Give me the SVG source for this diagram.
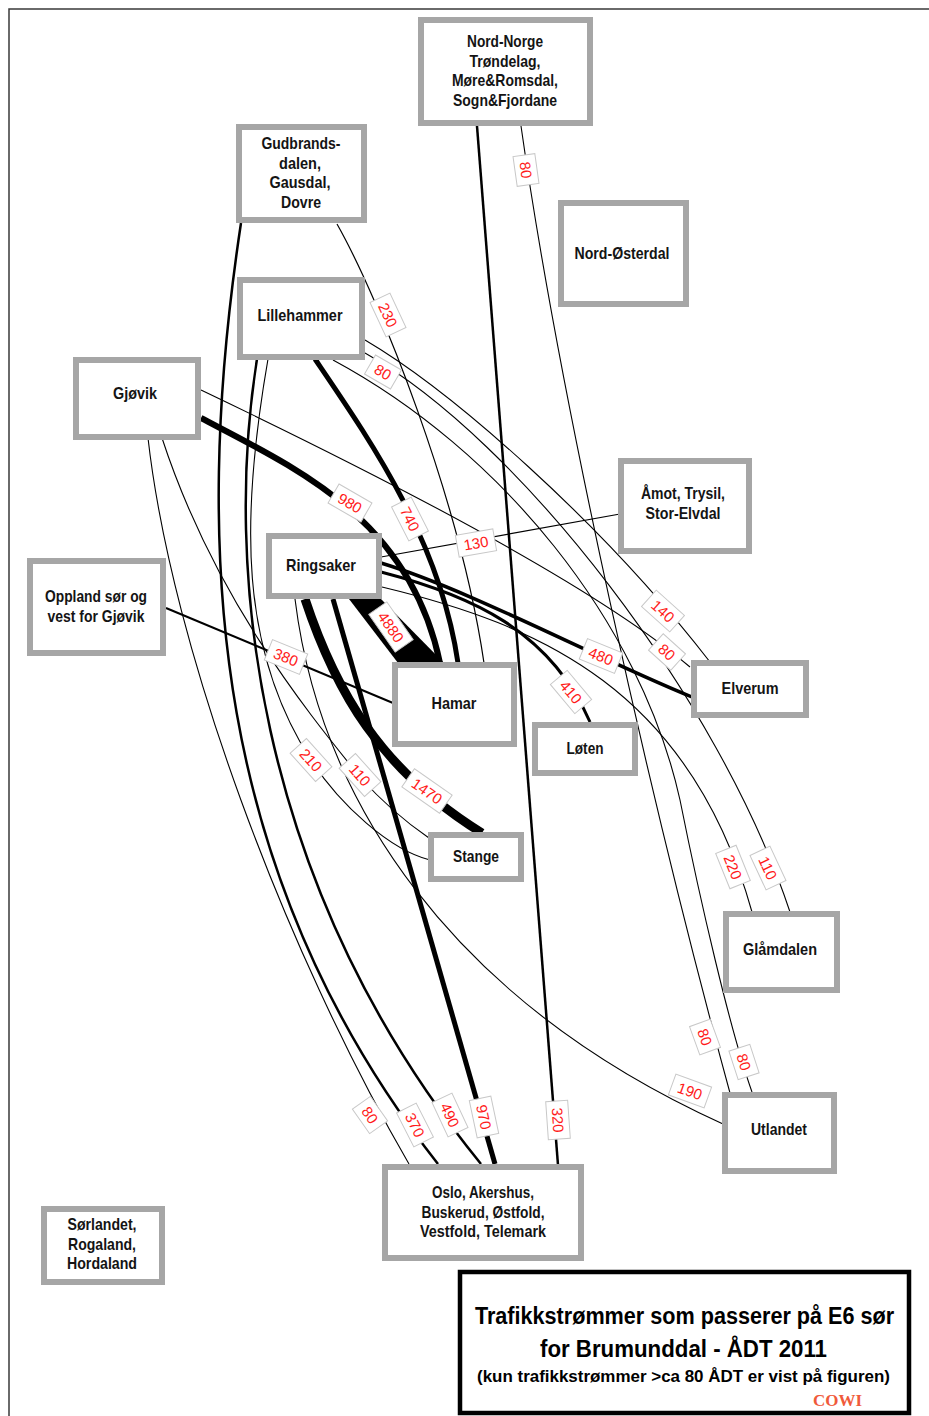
<svg xmlns="http://www.w3.org/2000/svg" width="929" height="1416" viewBox="0 0 929 1416">
<style>
.box{fill:#fff;stroke:#a6a6a6;stroke-width:6}
.nt{font-family:"Liberation Sans Narrow","Liberation Sans",Arial,sans-serif;font-weight:bold;font-size:17px;fill:#141414;text-anchor:middle}
.ln{fill:none;stroke:#000;stroke-linecap:butt}
.lb rect{fill:#fff;stroke:#c8c8c8;stroke-width:1}
.lb text{font-family:"Liberation Sans",Arial,sans-serif;font-size:15px;fill:#ff1a1a;text-anchor:middle}
.tt{font-family:"Liberation Sans Narrow","Liberation Sans",Arial,sans-serif;font-weight:bold;fill:#000;text-anchor:middle}
</style>
<rect width="929" height="1416" fill="#fff"/>
<path d="M9,1416 V9 H929" fill="none" stroke="#3a3a3a" stroke-width="1.5"/>

<g id="connectors">
<path class="ln" stroke-width="2.5" d="M477,126 L558,1165"/>
<path class="ln" stroke-width="1.1" d="M521,126 C560,400 650,800 730,1093"/>
<path class="ln" stroke-width="1.2" d="M337,224 C380,300 460,500 484,663"/>
<path class="ln" stroke-width="2.5" d="M241,223 C190,560 215,880 438,1164"/>
<path class="ln" stroke-width="2.5" d="M257,359 C225,560 250,880 481,1164"/>
<path class="ln" stroke-width="5" d="M315,359 C370,440 440,540 458,663"/>
<path class="ln" stroke-width="6" d="M201,418 C300,470 410,520 440,663"/>
<polygon points="349,599 381,599 444,663 398,663" fill="#000"/>
<path class="ln" stroke-width="9" d="M305,599 C335,690 380,770 482,833"/>
<path class="ln" stroke-width="5" d="M333,599 L495,1164"/>
<path class="ln" stroke-width="3" d="M381,572 C470,595 550,630 590,722"/>
<path class="ln" stroke-width="3.5" d="M381,563 C470,590 600,660 692,697"/>
<path class="ln" stroke-width="1.2" d="M381,557 L620,514"/>
<path class="ln" stroke-width="2" d="M166,608 L393,703"/>
<path class="ln" stroke-width="1.1" d="M295,599 C320,800 450,1000 723,1124"/>
<path class="ln" stroke-width="1.1" d="M148,438 C172,650 285,950 409,1164"/>
<path class="ln" stroke-width="1.1" d="M268,359 C240,520 240,650 311,760 C340,805 390,850 430,860"/>
<path class="ln" stroke-width="1.1" d="M162,438 C215,600 310,715 360,777 C385,805 410,825 429,838"/>
<path class="ln" stroke-width="1.1" d="M365,340 C450,390 600,520 710,662"/>
<path class="ln" stroke-width="1.1" d="M201,390 C400,485 600,590 690,667"/>
<path class="ln" stroke-width="1.1" d="M365,353 C520,440 720,700 790,912"/>
<path class="ln" stroke-width="1.1" d="M382,587 C540,625 690,690 752,912"/>
<path class="ln" stroke-width="1.1" d="M333,360 C500,450 640,620 680,800 C700,900 730,1030 752,1092"/>
</g>

<g id="labels" class="lb">
<g transform="translate(526,170) rotate(82)"><rect x="-15" y="-11" width="30" height="22"/><text y="5.5">80</text></g>
<g transform="translate(388,315) rotate(65)"><rect x="-19" y="-11" width="38" height="22"/><text y="5.5">230</text></g>
<g transform="translate(383,372) rotate(30)"><rect x="-15" y="-11" width="30" height="22"/><text y="5.5">80</text></g>
<g transform="translate(350,503) rotate(30)"><rect x="-19" y="-11" width="38" height="22"/><text y="5.5">980</text></g>
<g transform="translate(410,519) rotate(63)"><rect x="-19" y="-11" width="38" height="22"/><text y="5.5">740</text></g>
<g transform="translate(476,543) rotate(-10)"><rect x="-19" y="-11" width="38" height="22"/><text y="5.5">130</text></g>
<g transform="translate(391,627) rotate(55)"><rect x="-23" y="-11" width="46" height="22"/><text y="5.5">4880</text></g>
<g transform="translate(286,657) rotate(22)"><rect x="-19" y="-11" width="38" height="22"/><text y="5.5">380</text></g>
<g transform="translate(663,611) rotate(42)"><rect x="-19" y="-11" width="38" height="22"/><text y="5.5">140</text></g>
<g transform="translate(667,652) rotate(42)"><rect x="-15" y="-11" width="30" height="22"/><text y="5.5">80</text></g>
<g transform="translate(601,656) rotate(22)"><rect x="-19" y="-11" width="38" height="22"/><text y="5.5">480</text></g>
<g transform="translate(571,692) rotate(50)"><rect x="-19" y="-11" width="38" height="22"/><text y="5.5">410</text></g>
<g transform="translate(311,760) rotate(48)"><rect x="-19" y="-11" width="38" height="22"/><text y="5.5">210</text></g>
<g transform="translate(360,775) rotate(48)"><rect x="-19" y="-11" width="38" height="22"/><text y="5.5">110</text></g>
<g transform="translate(427,791) rotate(35)"><rect x="-23" y="-11" width="46" height="22"/><text y="5.5">1470</text></g>
<g transform="translate(733,867) rotate(68)"><rect x="-19" y="-11" width="38" height="22"/><text y="5.5">220</text></g>
<g transform="translate(768,868) rotate(65)"><rect x="-19" y="-11" width="38" height="22"/><text y="5.5">110</text></g>
<g transform="translate(705,1037) rotate(70)"><rect x="-15" y="-11" width="30" height="22"/><text y="5.5">80</text></g>
<g transform="translate(744,1062) rotate(72)"><rect x="-15" y="-11" width="30" height="22"/><text y="5.5">80</text></g>
<g transform="translate(690,1091) rotate(20)"><rect x="-19" y="-11" width="38" height="22"/><text y="5.5">190</text></g>
<g transform="translate(370,1115) rotate(55)"><rect x="-15" y="-11" width="30" height="22"/><text y="5.5">80</text></g>
<g transform="translate(415,1125) rotate(63)"><rect x="-19" y="-11" width="38" height="22"/><text y="5.5">370</text></g>
<g transform="translate(450,1115) rotate(65)"><rect x="-19" y="-11" width="38" height="22"/><text y="5.5">490</text></g>
<g transform="translate(484,1117) rotate(78)"><rect x="-19" y="-11" width="38" height="22"/><text y="5.5">970</text></g>
<g transform="translate(558,1120) rotate(86)"><rect x="-19" y="-11" width="38" height="22"/><text y="5.5">320</text></g>
</g>

<g id="n-nordnorge"><rect class="box" x="421" y="20" width="169" height="103"/>
<text class="nt" x="505" y="47" textLength="76" lengthAdjust="spacingAndGlyphs">Nord-Norge</text><text class="nt" x="505" y="66.5" textLength="71" lengthAdjust="spacingAndGlyphs">Trøndelag,</text><text class="nt" x="505" y="86" textLength="106" lengthAdjust="spacingAndGlyphs">Møre&amp;Romsdal,</text><text class="nt" x="505" y="105.5" textLength="104" lengthAdjust="spacingAndGlyphs">Sogn&amp;Fjordane</text></g>
<g id="n-gudbrandsdalen"><rect class="box" x="239" y="127" width="125" height="93"/>
<text class="nt" x="301" y="149" textLength="79" lengthAdjust="spacingAndGlyphs">Gudbrands-</text><text class="nt" x="300" y="168.5" textLength="42" lengthAdjust="spacingAndGlyphs">dalen,</text><text class="nt" x="300" y="188" textLength="61" lengthAdjust="spacingAndGlyphs">Gausdal,</text><text class="nt" x="301" y="207.5" textLength="40" lengthAdjust="spacingAndGlyphs">Dovre</text></g>
<g id="n-nordosterdal"><rect class="box" x="561" y="203" width="125" height="101"/>
<text class="nt" x="622" y="259" textLength="95" lengthAdjust="spacingAndGlyphs">Nord-Østerdal</text></g>
<g id="n-lillehammer"><rect class="box" x="240" y="280" width="122" height="77"/>
<text class="nt" x="300" y="321" textLength="85" lengthAdjust="spacingAndGlyphs">Lillehammer</text></g>
<g id="n-gjovik"><rect class="box" x="76" y="360" width="122" height="77"/>
<text class="nt" x="135" y="399" textLength="44" lengthAdjust="spacingAndGlyphs">Gjøvik</text></g>
<g id="n-amot"><rect class="box" x="621" y="461" width="128" height="90"/>
<text class="nt" x="683" y="499" textLength="84" lengthAdjust="spacingAndGlyphs">Åmot, Trysil,</text><text class="nt" x="683" y="518.5" textLength="75" lengthAdjust="spacingAndGlyphs">Stor-Elvdal</text></g>
<g id="n-ringsaker"><rect class="box" x="269" y="536" width="110" height="60"/>
<text class="nt" x="321" y="571" textLength="70" lengthAdjust="spacingAndGlyphs">Ringsaker</text></g>
<g id="n-oppland"><rect class="box" x="30" y="561" width="133" height="92"/>
<text class="nt" x="96" y="602" textLength="102" lengthAdjust="spacingAndGlyphs">Oppland sør og</text><text class="nt" x="96" y="621.5" textLength="97" lengthAdjust="spacingAndGlyphs">vest for Gjøvik</text></g>
<g id="n-hamar"><rect class="box" x="395" y="665" width="119" height="79"/>
<text class="nt" x="454" y="709" textLength="45" lengthAdjust="spacingAndGlyphs">Hamar</text></g>
<g id="n-elverum"><rect class="box" x="694" y="663" width="112" height="52"/>
<text class="nt" x="750" y="694" textLength="57" lengthAdjust="spacingAndGlyphs">Elverum</text></g>
<g id="n-loten"><rect class="box" x="535" y="725" width="100" height="48"/>
<text class="nt" x="585" y="754" textLength="37" lengthAdjust="spacingAndGlyphs">Løten</text></g>
<g id="n-stange"><rect class="box" x="431" y="835" width="90" height="44"/>
<text class="nt" x="476" y="862" textLength="46" lengthAdjust="spacingAndGlyphs">Stange</text></g>
<g id="n-glamdalen"><rect class="box" x="726" y="914" width="111" height="76"/>
<text class="nt" x="780" y="955" textLength="74" lengthAdjust="spacingAndGlyphs">Glåmdalen</text></g>
<g id="n-utlandet"><rect class="box" x="725" y="1095" width="109" height="76"/>
<text class="nt" x="779" y="1135" textLength="56" lengthAdjust="spacingAndGlyphs">Utlandet</text></g>
<g id="n-oslo"><rect class="box" x="385" y="1167" width="196" height="91"/>
<text class="nt" x="483" y="1198" textLength="102" lengthAdjust="spacingAndGlyphs">Oslo, Akershus,</text><text class="nt" x="483" y="1217.5" textLength="123" lengthAdjust="spacingAndGlyphs">Buskerud, Østfold,</text><text class="nt" x="483" y="1237" textLength="126" lengthAdjust="spacingAndGlyphs">Vestfold, Telemark</text></g>
<g id="n-sorlandet"><rect class="box" x="44" y="1209" width="118" height="73"/>
<text class="nt" x="102" y="1230" textLength="69" lengthAdjust="spacingAndGlyphs">Sørlandet,</text><text class="nt" x="102" y="1249.5" textLength="68" lengthAdjust="spacingAndGlyphs">Rogaland,</text><text class="nt" x="102" y="1269" textLength="70" lengthAdjust="spacingAndGlyphs">Hordaland</text></g>

<g id="title">
<rect x="460" y="1272" width="449" height="141" fill="#fff" stroke="#000" stroke-width="4.5"/>
<text class="tt" transform="translate(684.5,1324) scale(0.89,1)" x="0" y="0" font-size="24" textLength="471" lengthAdjust="spacingAndGlyphs">Trafikkstrømmer som passerer på E6 sør</text>
<text class="tt" x="683.5" y="1357" font-size="24" textLength="287" lengthAdjust="spacingAndGlyphs">for Brumunddal - ÅDT 2011</text>
<text class="tt" x="683.5" y="1382" font-size="17" textLength="413" lengthAdjust="spacingAndGlyphs">(kun trafikkstrømmer &gt;ca 80 ÅDT er vist på figuren)</text>
<text x="837.5" y="1406" font-family="Liberation Serif,Times New Roman,serif" font-weight="bold" font-size="17" fill="#f05a3a" text-anchor="middle" textLength="49" lengthAdjust="spacingAndGlyphs">COWI</text>
</g>
</svg>
